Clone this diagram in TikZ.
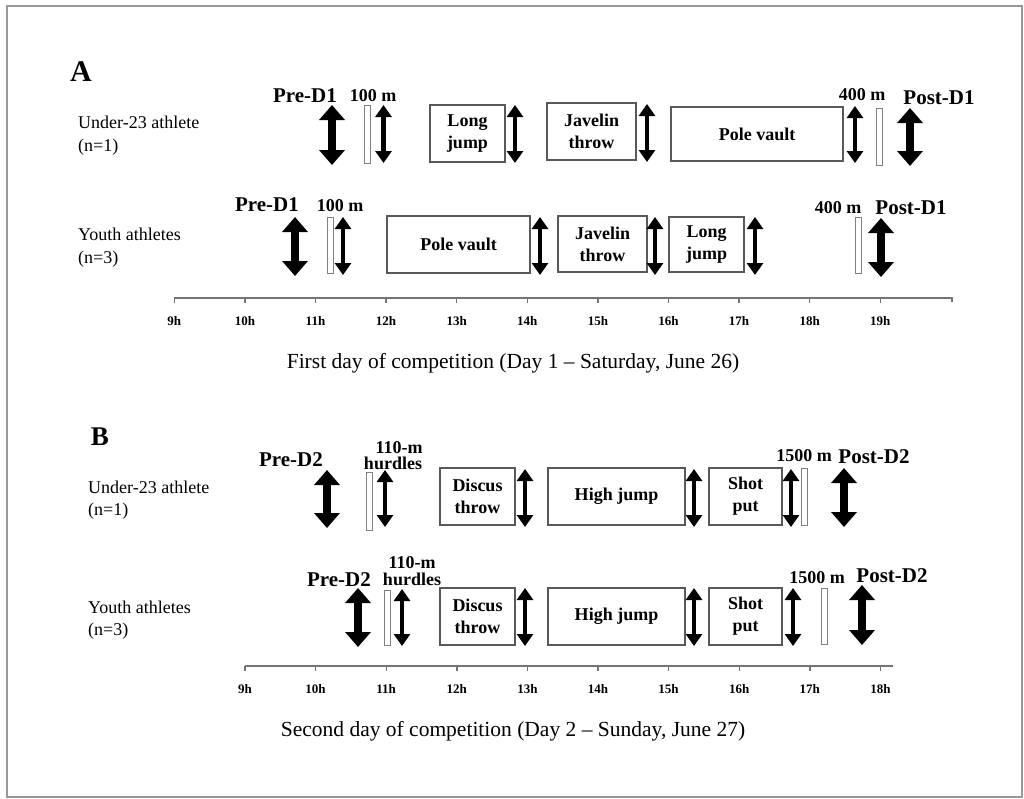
\documentclass[tikz,border=0pt]{standalone}
\usepackage{fontspec}
\setmainfont{Liberation Serif}
\usetikzlibrary{arrows.meta}
\begin{document}
\begin{tikzpicture}[x=1pt,y=-1pt,
  evbox/.style={draw=black!65, line width=1.2pt, fill=white, inner sep=0pt, align=center, font=\fontsize{18}{22}\selectfont\bfseries},
  runbar/.style={draw=black!50, line width=0.9pt, fill=white, inner sep=0pt, minimum width=6pt},
  bigarr/.style={line width=8.5pt, {Triangle[width=25pt,length=15pt]}-{Triangle[width=25pt,length=15pt]}},
  thinarr/.style={line width=4.5pt, {Triangle[width=16pt,length=12pt]}-{Triangle[width=16pt,length=12pt]}},
  marklab/.style={anchor=base, inner sep=0pt, font=\fontsize{21}{21}\selectfont\bfseries},
  distlab/.style={anchor=base, inner sep=0pt, font=\fontsize{18}{18}\selectfont\bfseries},
  rowlab/.style={anchor=base west, inner sep=0pt, font=\fontsize{18}{22}\selectfont},
  hourlab/.style={anchor=base, inner sep=0pt, font=\fontsize{13}{13}\selectfont\bfseries},
  caption/.style={anchor=base, inner sep=0pt, font=\fontsize{21.5}{22}\selectfont},
  panel/.style={anchor=base, inner sep=0pt, font=\fontsize{30}{30}\selectfont\bfseries},
  axis/.style={draw=black!55, line width=1.4pt}]
\useasboundingbox (0,0) rectangle (1024,798);
\draw[black!40, line width=2pt] (7,6) rectangle (1022,797);
% panel A: first day
\node[panel] (pA) at (81,81) {A};
\node[rowlab] (uA1) at (78,128) {Under-23 athlete};
\node[rowlab] (uA2) at (78,151) {(n=1)};
\node[rowlab] (yA1) at (78,240) {Youth athletes};
\node[rowlab] (yA2) at (78,263) {(n=3)};
% under-23, day 1
\node[marklab] (preA1) at (305,102) {Pre-D1};
\draw[bigarr] (332,105) -- (332,165);
\node[distlab] (sA1l) at (373,101) {100 m};
\node[runbar, minimum height=58pt] (sA1) at (367.5,134) {};
\draw[thinarr] (383.5,105) -- (383.5,163);
\node[evbox, minimum width=75pt, minimum height=57pt] (ljA1) at (467.5,133.5) {Long\\jump};
\draw[thinarr] (515,105) -- (515,163);
\node[evbox, minimum width=89pt, minimum height=57pt] (jtA1) at (591.5,131.5) {Javelin\\throw};
\draw[thinarr] (647,104) -- (647,162);
\node[evbox, minimum width=172pt, minimum height=54pt] (pvA1) at (757,134) {Pole vault};
\draw[thinarr] (855,106) -- (855,163);
\node[distlab] (lA1l) at (862,100) {400 m};
\node[runbar, minimum height=57pt] (lA1) at (879,136.5) {};
\node[marklab] (postA1) at (939,104) {Post-D1};
\draw[bigarr] (910,108) -- (910,166);
% youth, day 1
\node[marklab] (preA2) at (267,211) {Pre-D1};
\draw[bigarr] (295,217) -- (295,276);
\node[distlab] (sA2l) at (340,211) {100 m};
\node[runbar, minimum height=56pt] (sA2) at (330,245) {};
\draw[thinarr] (343,217) -- (343,275);
\node[evbox, minimum width=143pt, minimum height=57pt] (pvA2) at (458.5,244.5) {Pole vault};
\draw[thinarr] (540,217) -- (540,275);
\node[evbox, minimum width=89pt, minimum height=56pt] (jtA2) at (602.5,244) {Javelin\\throw};
\draw[thinarr] (655,217) -- (655,275);
\node[evbox, minimum width=75pt, minimum height=55pt] (ljA2) at (706.5,244.5) {Long\\jump};
\draw[thinarr] (755,217) -- (755,275);
\node[distlab] (lA2l) at (838,213) {400 m};
\node[runbar, minimum height=56pt] (lA2) at (858,245) {};
\node[marklab] (postA2) at (911,214) {Post-D1};
\draw[bigarr] (881,218) -- (881,277);
% time axis, day 1
\draw[axis] (174.3,298) -- (952,298) -- ++(0,4);
\foreach \h [count=\i from 0] in {9,...,19} {
  \draw[axis] ({174.3+70.6*\i},298) -- ++(0,5);
  \node[hourlab] (hA\h) at ({174.3+70.6*\i},325) {\h h};
}
\node[caption] (capA) at (513,368) {First day of competition (Day 1 -- Saturday, June 26)};
% panel B: second day
\node[panel, font=\fontsize{27}{27}\selectfont\bfseries] (pB) at (100,445) {B};
\node[rowlab] (uB1) at (88,493) {Under-23 athlete};
\node[rowlab] (uB2) at (88,515) {(n=1)};
\node[rowlab] (yB1) at (88,613) {Youth athletes};
\node[rowlab] (yB2) at (88,635) {(n=3)};
% under-23, day 2
\node[marklab] (preB1) at (291,466) {Pre-D2};
\draw[bigarr] (327,470) -- (327,528);
\node[distlab] (hB1a) at (399,453) {110-m};
\node[distlab] (hB1b) at (393,469) {hurdles};
\node[runbar, minimum height=58pt] (hB1) at (369,501) {};
\draw[thinarr] (385,470) -- (385,527);
\node[evbox, minimum width=75pt, minimum height=57pt] (dtB1) at (477.5,496.5) {Discus\\throw};
\draw[thinarr] (525,469) -- (525,527);
\node[evbox, minimum width=137pt, minimum height=57pt] (hjB1) at (616.5,496.5) {High jump};
\draw[thinarr] (694,469) -- (694,527);
\node[evbox, minimum width=73pt, minimum height=57pt] (spB1) at (745.5,496.5) {Shot\\put};
\draw[thinarr] (791,469) -- (791,527);
\node[distlab] (mB1l) at (804,461) {1500 m};
\node[runbar, minimum height=57pt] (mB1) at (804.5,496.5) {};
\node[marklab] (postB1) at (874,463) {Post-D2};
\draw[bigarr] (844,468) -- (844,527);
% youth, day 2
\node[marklab] (preB2) at (339,586) {Pre-D2};
\draw[bigarr] (358,588) -- (358,647);
\node[distlab] (hB2a) at (412,568) {110-m};
\node[distlab] (hB2b) at (412,585) {hurdles};
\node[runbar, minimum height=55pt] (hB2) at (387.5,617.5) {};
\draw[thinarr] (402,589) -- (402,646);
\node[evbox, minimum width=75pt, minimum height=57pt] (dtB2) at (477.5,616.5) {Discus\\throw};
\draw[thinarr] (525,588) -- (525,646);
\node[evbox, minimum width=137pt, minimum height=57pt] (hjB2) at (616.5,616.5) {High jump};
\draw[thinarr] (694,588) -- (694,646);
\node[evbox, minimum width=73pt, minimum height=57pt] (spB2) at (745.5,616.5) {Shot\\put};
\draw[thinarr] (793,588) -- (793,646);
\node[distlab] (mB2l) at (817,583) {1500 m};
\node[runbar, minimum height=56pt] (mB2) at (824.5,616) {};
\node[marklab] (postB2) at (892,582) {Post-D2};
\draw[bigarr] (862,585) -- (862,645);
% time axis, day 2
\draw[axis] (245,666) -- (893,666);
\foreach \h [count=\i from 0] in {9,...,18} {
  \draw[axis] ({245+70.6*\i},666) -- ++(0,5);
  \node[hourlab] (hB\h) at ({245+70.6*\i},693) {\h h};
}
\node[caption] (capB) at (513,736) {Second day of competition (Day 2 -- Sunday, June 27)};
\end{tikzpicture}
\end{document}
